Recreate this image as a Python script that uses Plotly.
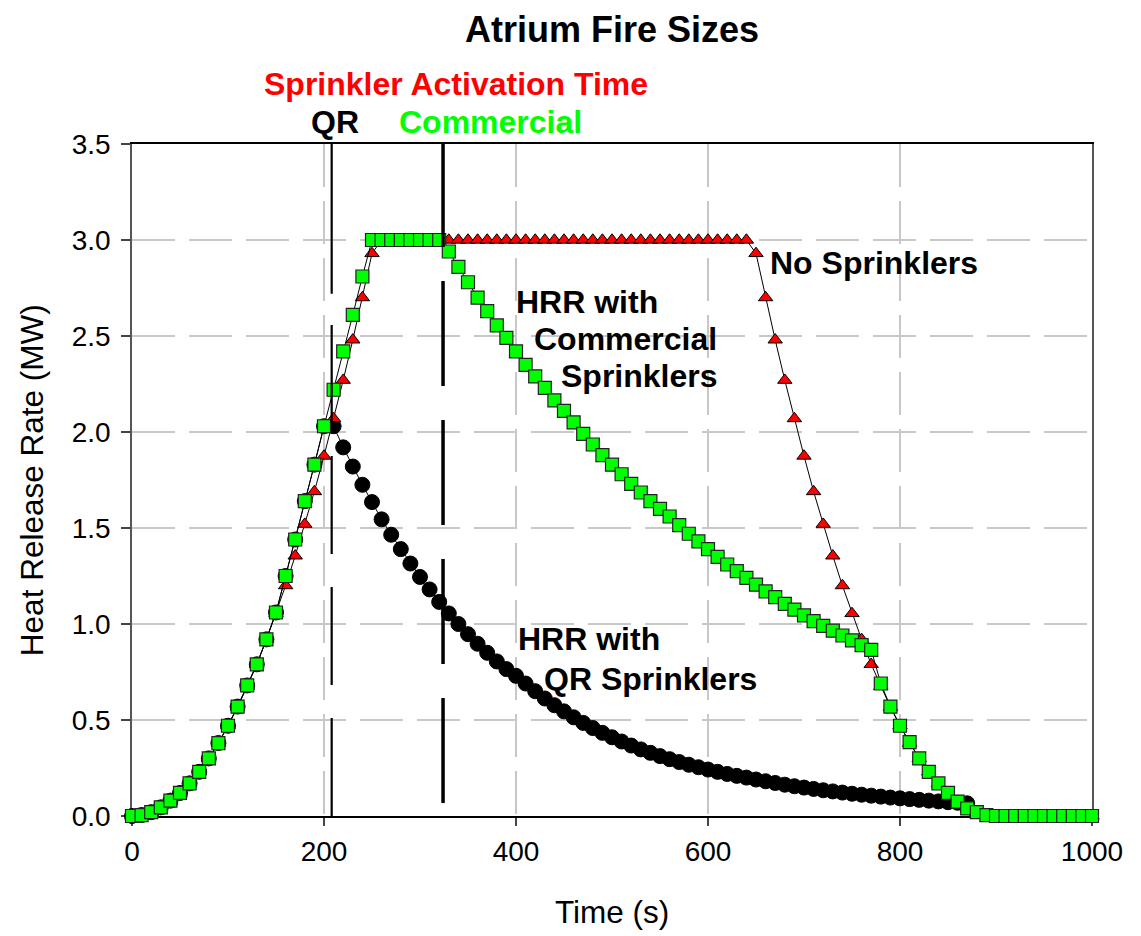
import plotly.graph_objects as go

# ---------------- data ----------------
time_s = [0, 10, 20, 30, 40, 50, 60, 70, 80, 90,
          100, 110, 120, 130, 140, 150, 160, 170, 180, 190,
          200, 210, 220, 230, 240, 250, 260, 270, 280, 290,
          300, 310, 320, 330, 340, 350, 360, 370, 380, 390,
          400, 410, 420, 430, 440, 450, 460, 470, 480, 490,
          500, 510, 520, 530, 540, 550, 560, 570, 580, 590,
          600, 610, 620, 630, 640, 650, 660, 670, 680, 690,
          700, 710, 720, 730, 740, 750, 760, 770, 780, 790,
          800, 810, 820, 830, 840, 850, 860, 870, 880, 890,
          900, 910, 920, 930, 940, 950, 960, 970, 980, 990,
          1000]

hrr_no_sprinklers = [0, 0.005, 0.019, 0.042, 0.075, 0.117, 0.169, 0.23, 0.30, 0.38,
                     0.47, 0.567, 0.675, 0.79, 0.92, 1.055, 1.20, 1.355, 1.52, 1.69,
                     1.875, 2.07, 2.27, 2.48, 2.70, 2.93, 3.0, 3.0, 3.0, 3.0,
                     3.0, 3.0, 3.0, 3.0, 3.0, 3.0, 3.0, 3.0, 3.0, 3.0,
                     3.0, 3.0, 3.0, 3.0, 3.0, 3.0, 3.0, 3.0, 3.0, 3.0,
                     3.0, 3.0, 3.0, 3.0, 3.0, 3.0, 3.0, 3.0, 3.0, 3.0,
                     3.0, 3.0, 3.0, 3.0, 3.0, 2.93, 2.70, 2.48, 2.27, 2.07,
                     1.875, 1.69, 1.52, 1.355, 1.20, 1.055, 0.92, 0.79, 0.675, 0.567,
                     0.47, 0.38, 0.30, 0.23, 0.169, 0.117, 0.075, 0.042, 0.019, 0.005,
                     0, 0, 0, 0, 0, 0, 0, 0, 0, 0,
                     0]

hrr_commercial = [0, 0.005, 0.02, 0.045, 0.08, 0.12, 0.17, 0.23, 0.30, 0.38,
                  0.47, 0.57, 0.68, 0.79, 0.92, 1.06, 1.25, 1.44, 1.64, 1.83,
                  2.03, 2.22, 2.42, 2.61, 2.81, 3.0, 3.0, 3.0, 3.0, 3.0,
                  3.0, 3.0, 3.0, 2.94, 2.86, 2.78, 2.70, 2.63, 2.555, 2.49,
                  2.42, 2.35, 2.29, 2.23, 2.165, 2.11, 2.05, 1.99, 1.935, 1.88,
                  1.83, 1.78, 1.73, 1.685, 1.64, 1.60, 1.56, 1.515, 1.47, 1.43,
                  1.39, 1.35, 1.31, 1.275, 1.24, 1.205, 1.17, 1.14, 1.105, 1.075,
                  1.045, 1.015, 0.99, 0.965, 0.94, 0.915, 0.89, 0.865, 0.69, 0.57,
                  0.47, 0.385, 0.30, 0.23, 0.17, 0.12, 0.075, 0.04, 0.02, 0.005,
                  0, 0, 0, 0, 0, 0, 0, 0, 0, 0,
                  0]

hrr_qr = [0, 0.005, 0.02, 0.045, 0.08, 0.12, 0.17, 0.23, 0.30, 0.38,
          0.47, 0.57, 0.68, 0.79, 0.92, 1.06, 1.25, 1.44, 1.64, 1.83,
          2.03, 2.03, 1.92, 1.82, 1.725, 1.635, 1.545, 1.465, 1.39, 1.315,
          1.245, 1.18, 1.115, 1.055, 1.0, 0.947, 0.897, 0.85, 0.805, 0.765,
          0.73, 0.69, 0.65, 0.612, 0.577, 0.545, 0.514, 0.485, 0.458, 0.433,
          0.41, 0.388, 0.367, 0.347, 0.329, 0.312, 0.296, 0.281, 0.267, 0.254,
          0.242, 0.23, 0.219, 0.209, 0.2, 0.19, 0.181, 0.172, 0.163, 0.155,
          0.148, 0.141, 0.134, 0.128, 0.122, 0.116, 0.111, 0.106, 0.101, 0.096,
          0.092, 0.088, 0.084, 0.08, 0.076, 0.072, 0.069, 0.066]

activation_qr = 208
activation_commercial = 324

x_ticks = [0, 200, 400, 600, 800, 1000]
y_ticks = [0.0, 0.5, 1.0, 1.5, 2.0, 2.5, 3.0, 3.5]
y_tick_text = ["0.0", "0.5", "1.0", "1.5", "2.0", "2.5", "3.0", "3.5"]

FONT = "Liberation Sans, Arial, sans-serif"

fig = go.Figure()

fig.add_trace(go.Scatter(
    x=time_s[:len(hrr_qr)], y=hrr_qr, mode="lines+markers",
    line=dict(color="black", width=1),
    marker=dict(symbol="circle", size=15, color="black",
                line=dict(color="black", width=1)),
    cliponaxis=False, showlegend=False))

fig.add_trace(go.Scatter(
    x=time_s, y=hrr_no_sprinklers, mode="lines+markers",
    line=dict(color="black", width=1),
    marker=dict(symbol="triangle-up", size=12.5, color="#ff0000",
                line=dict(color="black", width=1)),
    cliponaxis=False, showlegend=False))

fig.add_trace(go.Scatter(
    x=time_s, y=hrr_commercial, mode="lines+markers",
    line=dict(color="black", width=1),
    marker=dict(symbol="square", size=13, color="#00ff00",
                line=dict(color="#222222", width=1.2)),
    cliponaxis=False, showlegend=False))

# activation time lines
fig.add_shape(type="line", x0=activation_qr, x1=activation_qr, y0=0, y1=2.72,
              xref="x", yref="y", layer="above",
              line=dict(color="black", width=2.2, dash="98px,33px"))
fig.add_shape(type="line", x0=activation_qr, x1=activation_qr, y0=2.72, y1=3.51,
              xref="x", yref="y", layer="above",
              line=dict(color="black", width=2.2))
fig.add_shape(type="line", x0=activation_commercial, x1=activation_commercial,
              y0=3.51, y1=0, xref="x", yref="y", layer="above",
              line=dict(color="black", width=3.5, dash="105px,34px"))


def ann(text, x, y, color="black", size=32, xanchor="left", ref="data", angle=0, bold=True):
    xr, yr = ("x", "y") if ref == "data" else ("paper", "paper")
    fig.add_annotation(x=x, y=y, xref=xr, yref=yr,
                       text=f"<b>{text}</b>" if bold else text,
                       showarrow=False, xanchor=xanchor, yanchor="middle", textangle=angle,
                       font=dict(family=FONT, size=size, color=color))


# texts above the plot (paper coordinates)
ann("Atrium Fire Sizes", 0.5, 1.171, size=36, xanchor="center", ref="paper")
ann("Sprinkler Activation Time", 0.337, 1.0893, color="#ff0000", xanchor="center", ref="paper")
ann("QR", 0.2115, 1.0327, xanchor="center", ref="paper")
ann("Commercial", 0.373, 1.0327, color="#00ff00", xanchor="center", ref="paper")
# axis titles
ann("Time (s)", 0.5, -0.1429, size=31.5, xanchor="center", ref="paper", bold=False)
ann("Heat Release Rate (MW)", -0.104, 0.5, size=31.5, xanchor="center", ref="paper",
    angle=-90, bold=False)
# texts inside the plot
ann("No Sprinklers", 662, 2.88)
ann("HRR with", 398, 2.677)
ann("Commercial", 417, 2.484)
ann("Sprinklers", 444.5, 2.292)
ann("HRR with", 400, 0.922)
ann("QR Sprinklers", 427, 0.714)

# page body has an 8px margin -> figure sized/offset to compensate
fig.update_layout(
    width=1133, height=928,
    margin=dict(l=124, r=49, t=136, b=120, autoexpand=False),
    paper_bgcolor="white", plot_bgcolor="white",
    font=dict(family=FONT, color="black"),
    showlegend=False,
)

fig.update_xaxes(
    range=[0, 1000], tickvals=x_ticks,
    showgrid=True, gridcolor="#c8c8c8", gridwidth=1.5, griddash="43px,14px",
    zeroline=False, showline=True, linecolor="black", linewidth=1.5, mirror=True,
    ticks="outside", ticklen=8, tickcolor="#444", tickwidth=1.5,
    tickfont=dict(family=FONT, size=28, color="black"), ticklabelstandoff=2,
    layer="below traces", automargin=False,
)
fig.update_yaxes(
    range=[0, 3.5], tickvals=y_ticks, ticktext=y_tick_text,
    showgrid=True, gridcolor="#c8c8c8", gridwidth=1.5, griddash="43px,14px",
    zeroline=False, showline=True, linecolor="#555", linewidth=1.5, mirror=True,
    ticks="outside", ticklen=9, tickcolor="#444", tickwidth=1.5,
    tickfont=dict(family=FONT, size=28, color="black"), ticklabelstandoff=5,
    layer="below traces", automargin=False,
)

fig.write_html("out.html")
